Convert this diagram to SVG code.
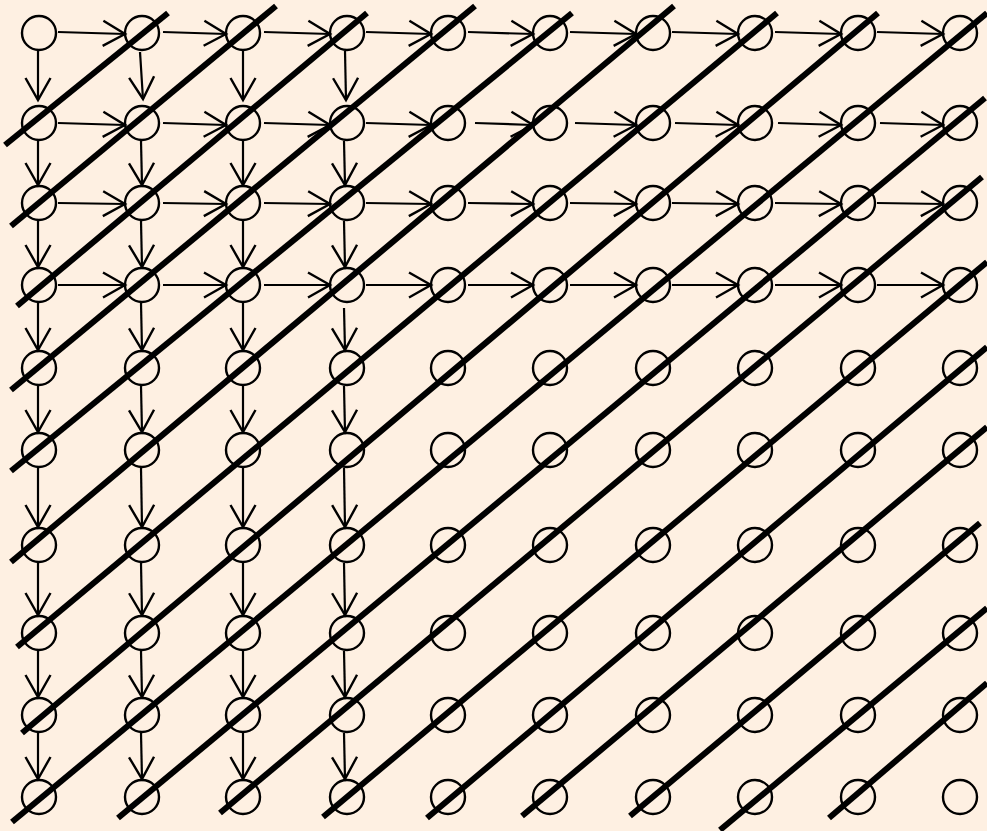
<svg xmlns="http://www.w3.org/2000/svg" width="987" height="831" viewBox="0 0 987 831">
<defs>
<style>
.n{fill:none;stroke:#000;stroke-width:2.4}
.a{fill:none;stroke:#000;stroke-width:2.2;marker-end:url(#v)}
.d{fill:none;stroke:#000;stroke-width:6;stroke-linecap:butt}
</style>
<marker id="v" markerUnits="userSpaceOnUse" markerWidth="30" markerHeight="30" viewBox="-24 -15 28 30" refX="0" refY="0" orient="auto" overflow="visible">
<path d="M-22,-12.5 L0,0 L-22,12.5" fill="none" stroke="#000" stroke-width="2.4"/>
</marker>
</defs>
<rect width="987" height="831" fill="#FEF0E2"/>
<g id="nodes">
<g id="n0-0"><circle class="n" cx="39" cy="33" r="17"/></g>
<g id="n0-1"><circle class="n" cx="142" cy="33" r="17"/></g>
<g id="n0-2"><circle class="n" cx="243" cy="33" r="17"/></g>
<g id="n0-3"><circle class="n" cx="347" cy="33" r="17"/></g>
<g id="n0-4"><circle class="n" cx="448" cy="33" r="17"/></g>
<g id="n0-5"><circle class="n" cx="550" cy="33" r="17"/></g>
<g id="n0-6"><circle class="n" cx="653" cy="33" r="17"/></g>
<g id="n0-7"><circle class="n" cx="755" cy="33" r="17"/></g>
<g id="n0-8"><circle class="n" cx="858" cy="33" r="17"/></g>
<g id="n0-9"><circle class="n" cx="960" cy="33" r="17"/></g>
<g id="n1-0"><circle class="n" cx="39" cy="123" r="17"/></g>
<g id="n1-1"><circle class="n" cx="142" cy="123" r="17"/></g>
<g id="n1-2"><circle class="n" cx="243" cy="123" r="17"/></g>
<g id="n1-3"><circle class="n" cx="347" cy="123" r="17"/></g>
<g id="n1-4"><circle class="n" cx="448" cy="123" r="17"/></g>
<g id="n1-5"><circle class="n" cx="550" cy="123" r="17"/></g>
<g id="n1-6"><circle class="n" cx="653" cy="123" r="17"/></g>
<g id="n1-7"><circle class="n" cx="755" cy="123" r="17"/></g>
<g id="n1-8"><circle class="n" cx="858" cy="123" r="17"/></g>
<g id="n1-9"><circle class="n" cx="960" cy="123" r="17"/></g>
<g id="n2-0"><circle class="n" cx="39" cy="203" r="17"/></g>
<g id="n2-1"><circle class="n" cx="142" cy="203" r="17"/></g>
<g id="n2-2"><circle class="n" cx="243" cy="203" r="17"/></g>
<g id="n2-3"><circle class="n" cx="347" cy="203" r="17"/></g>
<g id="n2-4"><circle class="n" cx="448" cy="203" r="17"/></g>
<g id="n2-5"><circle class="n" cx="550" cy="203" r="17"/></g>
<g id="n2-6"><circle class="n" cx="653" cy="203" r="17"/></g>
<g id="n2-7"><circle class="n" cx="755" cy="203" r="17"/></g>
<g id="n2-8"><circle class="n" cx="858" cy="203" r="17"/></g>
<g id="n2-9"><circle class="n" cx="960" cy="203" r="17"/></g>
<g id="n3-0"><circle class="n" cx="39" cy="285" r="17"/></g>
<g id="n3-1"><circle class="n" cx="142" cy="285" r="17"/></g>
<g id="n3-2"><circle class="n" cx="243" cy="285" r="17"/></g>
<g id="n3-3"><circle class="n" cx="347" cy="285" r="17"/></g>
<g id="n3-4"><circle class="n" cx="448" cy="285" r="17"/></g>
<g id="n3-5"><circle class="n" cx="550" cy="285" r="17"/></g>
<g id="n3-6"><circle class="n" cx="653" cy="285" r="17"/></g>
<g id="n3-7"><circle class="n" cx="755" cy="285" r="17"/></g>
<g id="n3-8"><circle class="n" cx="858" cy="285" r="17"/></g>
<g id="n3-9"><circle class="n" cx="960" cy="285" r="17"/></g>
<g id="n4-0"><circle class="n" cx="39" cy="368" r="17"/></g>
<g id="n4-1"><circle class="n" cx="142" cy="368" r="17"/></g>
<g id="n4-2"><circle class="n" cx="243" cy="368" r="17"/></g>
<g id="n4-3"><circle class="n" cx="347" cy="368" r="17"/></g>
<g id="n4-4"><circle class="n" cx="448" cy="368" r="17"/></g>
<g id="n4-5"><circle class="n" cx="550" cy="368" r="17"/></g>
<g id="n4-6"><circle class="n" cx="653" cy="368" r="17"/></g>
<g id="n4-7"><circle class="n" cx="755" cy="368" r="17"/></g>
<g id="n4-8"><circle class="n" cx="858" cy="368" r="17"/></g>
<g id="n4-9"><circle class="n" cx="960" cy="368" r="17"/></g>
<g id="n5-0"><circle class="n" cx="39" cy="450" r="17"/></g>
<g id="n5-1"><circle class="n" cx="142" cy="450" r="17"/></g>
<g id="n5-2"><circle class="n" cx="243" cy="450" r="17"/></g>
<g id="n5-3"><circle class="n" cx="347" cy="450" r="17"/></g>
<g id="n5-4"><circle class="n" cx="448" cy="450" r="17"/></g>
<g id="n5-5"><circle class="n" cx="550" cy="450" r="17"/></g>
<g id="n5-6"><circle class="n" cx="653" cy="450" r="17"/></g>
<g id="n5-7"><circle class="n" cx="755" cy="450" r="17"/></g>
<g id="n5-8"><circle class="n" cx="858" cy="450" r="17"/></g>
<g id="n5-9"><circle class="n" cx="960" cy="450" r="17"/></g>
<g id="n6-0"><circle class="n" cx="39" cy="545" r="17"/></g>
<g id="n6-1"><circle class="n" cx="142" cy="545" r="17"/></g>
<g id="n6-2"><circle class="n" cx="243" cy="545" r="17"/></g>
<g id="n6-3"><circle class="n" cx="347" cy="545" r="17"/></g>
<g id="n6-4"><circle class="n" cx="448" cy="545" r="17"/></g>
<g id="n6-5"><circle class="n" cx="550" cy="545" r="17"/></g>
<g id="n6-6"><circle class="n" cx="653" cy="545" r="17"/></g>
<g id="n6-7"><circle class="n" cx="755" cy="545" r="17"/></g>
<g id="n6-8"><circle class="n" cx="858" cy="545" r="17"/></g>
<g id="n6-9"><circle class="n" cx="960" cy="545" r="17"/></g>
<g id="n7-0"><circle class="n" cx="39" cy="633" r="17"/></g>
<g id="n7-1"><circle class="n" cx="142" cy="633" r="17"/></g>
<g id="n7-2"><circle class="n" cx="243" cy="633" r="17"/></g>
<g id="n7-3"><circle class="n" cx="347" cy="633" r="17"/></g>
<g id="n7-4"><circle class="n" cx="448" cy="633" r="17"/></g>
<g id="n7-5"><circle class="n" cx="550" cy="633" r="17"/></g>
<g id="n7-6"><circle class="n" cx="653" cy="633" r="17"/></g>
<g id="n7-7"><circle class="n" cx="755" cy="633" r="17"/></g>
<g id="n7-8"><circle class="n" cx="858" cy="633" r="17"/></g>
<g id="n7-9"><circle class="n" cx="960" cy="633" r="17"/></g>
<g id="n8-0"><circle class="n" cx="39" cy="715" r="17"/></g>
<g id="n8-1"><circle class="n" cx="142" cy="715" r="17"/></g>
<g id="n8-2"><circle class="n" cx="243" cy="715" r="17"/></g>
<g id="n8-3"><circle class="n" cx="347" cy="715" r="17"/></g>
<g id="n8-4"><circle class="n" cx="448" cy="715" r="17"/></g>
<g id="n8-5"><circle class="n" cx="550" cy="715" r="17"/></g>
<g id="n8-6"><circle class="n" cx="653" cy="715" r="17"/></g>
<g id="n8-7"><circle class="n" cx="755" cy="715" r="17"/></g>
<g id="n8-8"><circle class="n" cx="858" cy="715" r="17"/></g>
<g id="n8-9"><circle class="n" cx="960" cy="715" r="17"/></g>
<g id="n9-0"><circle class="n" cx="39" cy="797" r="17"/></g>
<g id="n9-1"><circle class="n" cx="142" cy="797" r="17"/></g>
<g id="n9-2"><circle class="n" cx="243" cy="797" r="17"/></g>
<g id="n9-3"><circle class="n" cx="347" cy="797" r="17"/></g>
<g id="n9-4"><circle class="n" cx="448" cy="797" r="17"/></g>
<g id="n9-5"><circle class="n" cx="550" cy="797" r="17"/></g>
<g id="n9-6"><circle class="n" cx="653" cy="797" r="17"/></g>
<g id="n9-7"><circle class="n" cx="755" cy="797" r="17"/></g>
<g id="n9-8"><circle class="n" cx="858" cy="797" r="17"/></g>
<g id="n9-9"><circle class="n" cx="960" cy="797" r="17"/></g>
</g>
<g id="connectors">
<path class="a" d="M58,32 L125,34"/>
<path class="a" d="M163,32 L226,34"/>
<path class="a" d="M264,32 L330,34"/>
<path class="a" d="M366,32 L431,34"/>
<path class="a" d="M468,32 L533,34"/>
<path class="a" d="M570,32 L636,34"/>
<path class="a" d="M672,32 L738,34"/>
<path class="a" d="M775,32 L841,34"/>
<path class="a" d="M877,32 L943,34"/>
<path class="a" d="M58,123 L125,125"/>
<path class="a" d="M163,123 L226,125"/>
<path class="a" d="M264,123 L330,125"/>
<path class="a" d="M366,123 L431,125"/>
<path class="a" d="M475,123 L533,125"/>
<path class="a" d="M575,123 L636,125"/>
<path class="a" d="M675,123 L738,125"/>
<path class="a" d="M778,123 L841,125"/>
<path class="a" d="M880,123 L943,125"/>
<path class="a" d="M58,203 L125,204"/>
<path class="a" d="M163,203 L226,204"/>
<path class="a" d="M264,203 L330,204"/>
<path class="a" d="M366,203 L431,204"/>
<path class="a" d="M468,203 L533,204"/>
<path class="a" d="M570,203 L636,204"/>
<path class="a" d="M672,203 L738,204"/>
<path class="a" d="M775,203 L841,204"/>
<path class="a" d="M877,203 L943,204"/>
<path class="a" d="M58,285 L125,285"/>
<path class="a" d="M163,285 L226,285"/>
<path class="a" d="M264,285 L330,285"/>
<path class="a" d="M366,285 L431,285"/>
<path class="a" d="M468,285 L533,285"/>
<path class="a" d="M570,285 L636,285"/>
<path class="a" d="M672,285 L738,285"/>
<path class="a" d="M775,285 L841,285"/>
<path class="a" d="M877,285 L943,285"/>
<path class="a" d="M38,51 L38,100"/>
<path class="a" d="M38,141 L38,185"/>
<path class="a" d="M38,221 L38,267"/>
<path class="a" d="M38,303 L38,350"/>
<path class="a" d="M38,386 L38,432"/>
<path class="a" d="M38,468 L38,527"/>
<path class="a" d="M38,563 L38,615"/>
<path class="a" d="M38,651 L38,697"/>
<path class="a" d="M38,733 L38,779"/>
<path class="a" d="M140,52 L143,99"/>
<path class="a" d="M141,141 L142,185"/>
<path class="a" d="M141,221 L142,267"/>
<path class="a" d="M141,303 L142,350"/>
<path class="a" d="M141,386 L142,432"/>
<path class="a" d="M141,468 L142,527"/>
<path class="a" d="M141,563 L142,615"/>
<path class="a" d="M141,651 L142,697"/>
<path class="a" d="M141,733 L142,779"/>
<path class="a" d="M243,51 L243,100"/>
<path class="a" d="M243,141 L243,185"/>
<path class="a" d="M243,221 L243,267"/>
<path class="a" d="M243,303 L243,350"/>
<path class="a" d="M243,386 L243,432"/>
<path class="a" d="M243,468 L243,527"/>
<path class="a" d="M243,563 L243,615"/>
<path class="a" d="M243,651 L243,697"/>
<path class="a" d="M243,733 L243,779"/>
<path class="a" d="M345,51 L346,100"/>
<path class="a" d="M344,141 L345,185"/>
<path class="a" d="M344,221 L345,267"/>
<path class="a" d="M344,308 L345,350"/>
<path class="a" d="M344,386 L345,432"/>
<path class="a" d="M344,468 L345,527"/>
<path class="a" d="M344,563 L345,615"/>
<path class="a" d="M344,651 L345,697"/>
<path class="a" d="M344,733 L345,779"/>
</g>
<g id="diagonals">
<path class="d" d="M5,145 L168,13"/>
<path class="d" d="M11,226 L276,6"/>
<path class="d" d="M17,306 L367,13"/>
<path class="d" d="M11,390 L475,6"/>
<path class="d" d="M11,471 L572,13"/>
<path class="d" d="M11,562 L674,6"/>
<path class="d" d="M17,647 L777,13"/>
<path class="d" d="M22,733 L878,13"/>
<path class="d" d="M12,822 L987,13"/>
<path class="d" d="M118,818 L985,98"/>
<path class="d" d="M220,813 L982,177"/>
<path class="d" d="M323,817 L987,262"/>
<path class="d" d="M427,818 L987,347"/>
<path class="d" d="M522,816 L987,427"/>
<path class="d" d="M630,816 L980,523"/>
<path class="d" d="M720,830 L987,608"/>
<path class="d" d="M829,818 L987,683"/>
</g>
</svg>
